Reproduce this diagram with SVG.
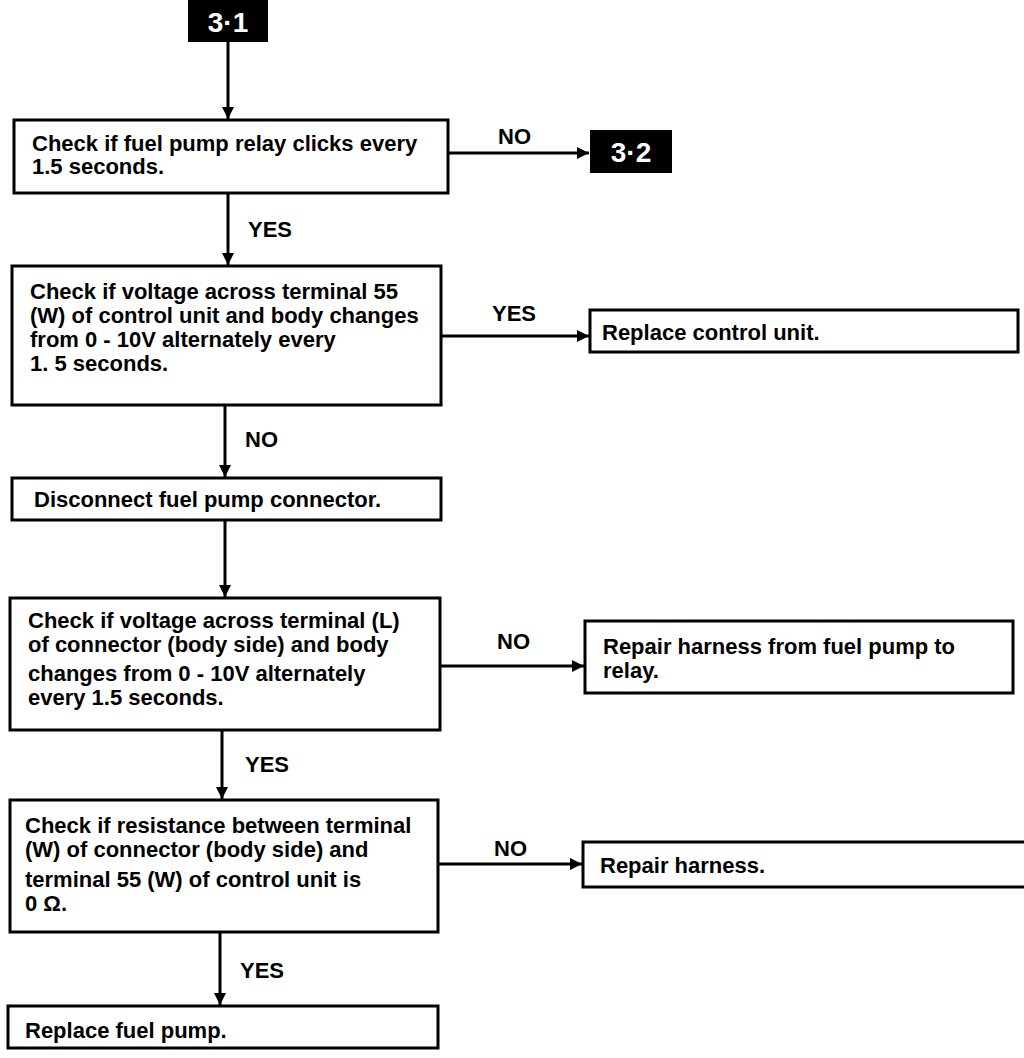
<svg xmlns="http://www.w3.org/2000/svg" width="1024" height="1058" viewBox="0 0 1024 1058">
<style>
.box{fill:#fff;stroke:#000;stroke-width:3}
.tag{fill:#000}
.t{font-family:"Liberation Sans",Arial,sans-serif;font-weight:bold;font-size:22px;fill:#000}
.tw{font-family:"Liberation Sans",Arial,sans-serif;font-weight:bold;font-size:28px;fill:#fff}
.ln{stroke:#000;stroke-width:3;fill:none}
</style>
<defs>
<marker id="ah" viewBox="0 0 10 10" refX="10" refY="5" markerWidth="4" markerHeight="4" orient="auto" markerUnits="strokeWidth">
<path d="M0,0 L10,5 L0,10 z" fill="#000"/>
</marker>
</defs>
<g id="connectors">
<line class="ln" x1="228" y1="42" x2="228" y2="119" marker-end="url(#ah)"/>
<line class="ln" x1="448" y1="153" x2="589" y2="153" marker-end="url(#ah)"/>
<text class="t" x="498" y="144">NO</text>
<line class="ln" x1="228" y1="193" x2="228" y2="265" marker-end="url(#ah)"/>
<text class="t" x="248" y="237">YES</text>
<line class="ln" x1="441" y1="336" x2="589" y2="336" marker-end="url(#ah)"/>
<text class="t" x="492" y="321">YES</text>
<line class="ln" x1="225" y1="405" x2="225" y2="477" marker-end="url(#ah)"/>
<text class="t" x="245" y="447">NO</text>
<line class="ln" x1="225" y1="520" x2="225" y2="597" marker-end="url(#ah)"/>
<line class="ln" x1="440" y1="666" x2="584" y2="666" marker-end="url(#ah)"/>
<text class="t" x="497" y="649">NO</text>
<line class="ln" x1="222" y1="730" x2="222" y2="799" marker-end="url(#ah)"/>
<text class="t" x="245" y="772">YES</text>
<line class="ln" x1="438" y1="864" x2="582" y2="864" marker-end="url(#ah)"/>
<text class="t" x="494" y="856">NO</text>
<line class="ln" x1="220" y1="932" x2="220" y2="1005" marker-end="url(#ah)"/>
<text class="t" x="240" y="978">YES</text>
</g>
<g id="n31">
<rect class="tag" x="188" y="0" width="80" height="42"/>
<text class="tw" x="228" y="32" text-anchor="middle">3·1</text>
</g>
<g id="n32">
<rect class="tag" x="590" y="130" width="82" height="43"/>
<text class="tw" x="631" y="162" text-anchor="middle">3·2</text>
</g>
<g id="n1">
<rect class="box" x="14" y="120" width="434" height="73"/>
<text class="t" x="32" y="151">Check if fuel pump relay clicks every</text>
<text class="t" x="32" y="174">1.5 seconds.</text>
</g>
<g id="n2">
<rect class="box" x="12" y="266" width="429" height="139"/>
<text class="t" x="30" y="299">Check if voltage across terminal 55</text>
<text class="t" x="30" y="323">(W) of control unit and body changes</text>
<text class="t" x="30" y="347">from 0 - 10V alternately every</text>
<text class="t" x="30" y="371">1. 5 seconds.</text>
</g>
<g id="n3">
<rect class="box" x="590" y="310" width="428" height="42"/>
<text class="t" x="602" y="340">Replace control unit.</text>
</g>
<g id="n4">
<rect class="box" x="12" y="478" width="429" height="42"/>
<text class="t" x="34" y="507">Disconnect fuel pump connector.</text>
</g>
<g id="n5">
<rect class="box" x="10" y="598" width="430" height="132"/>
<text class="t" x="28" y="628">Check if voltage across terminal (L)</text>
<text class="t" x="28" y="652">of connector (body side) and body</text>
<text class="t" x="28" y="681">changes from 0 - 10V alternately</text>
<text class="t" x="28" y="705">every 1.5 seconds.</text>
</g>
<g id="n6">
<rect class="box" x="585" y="621" width="428" height="72"/>
<text class="t" x="603" y="654">Repair harness from fuel pump to</text>
<text class="t" x="603" y="678">relay.</text>
</g>
<g id="n7">
<rect class="box" x="10" y="800" width="428" height="132"/>
<text class="t" x="25" y="833">Check if resistance between terminal</text>
<text class="t" x="25" y="857">(W) of connector (body side) and</text>
<text class="t" x="25" y="887">terminal 55 (W) of control unit is</text>
<text class="t" x="25" y="911">0 Ω.</text>
</g>
<g id="n8">
<rect class="box" x="583" y="842" width="445" height="45"/>
<text class="t" x="600" y="873">Repair harness.</text>
</g>
<g id="n9">
<rect class="box" x="8" y="1006" width="430" height="42"/>
<text class="t" x="25" y="1038">Replace fuel pump.</text>
</g>
</svg>
